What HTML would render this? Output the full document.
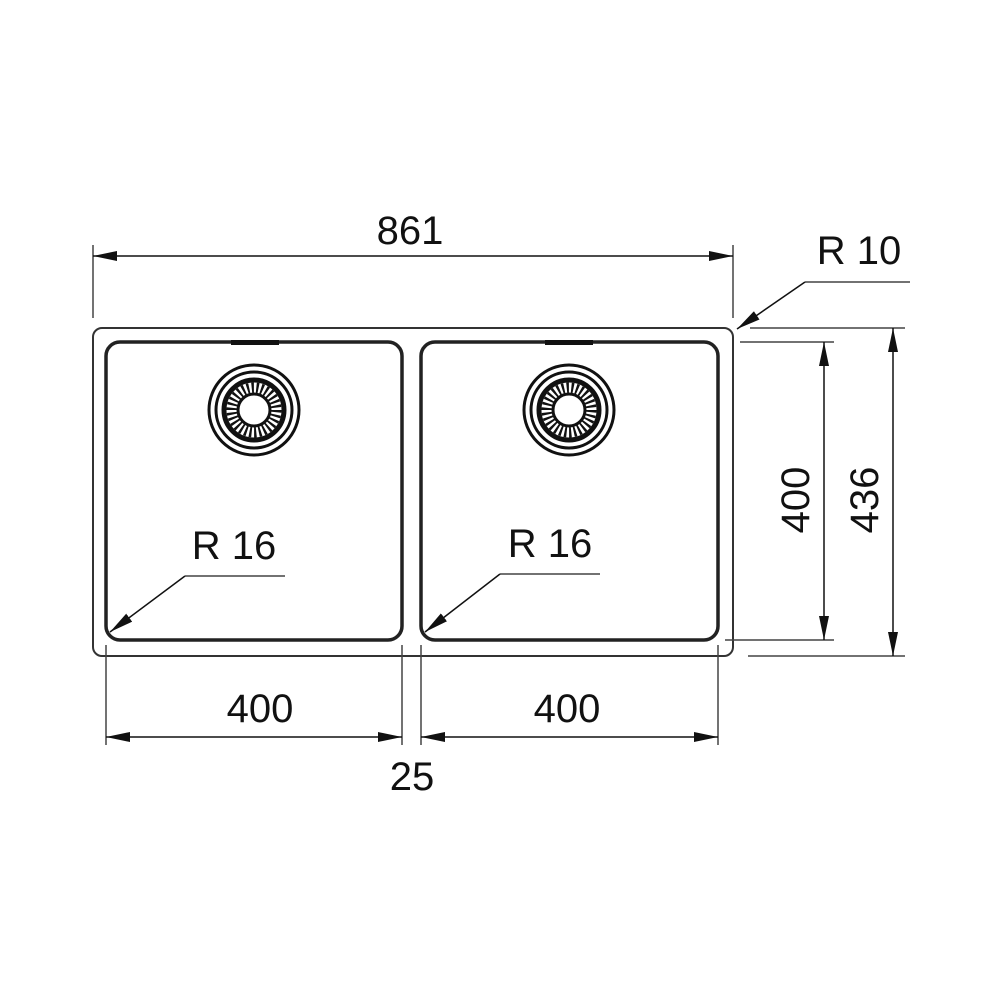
<!DOCTYPE html>
<html><head><style>html,body{margin:0;padding:0;background:#fff}svg{display:block}</style></head><body>
<svg width="1000" height="1000" viewBox="0 0 1000 1000" xmlns="http://www.w3.org/2000/svg" font-family="Liberation Sans, Arial, sans-serif">
<defs>
<marker id="a" markerWidth="24" markerHeight="10" refX="24" refY="5" orient="auto" markerUnits="userSpaceOnUse"><path d="M0,0 L24,5 L0,10 Z" fill="#111"/></marker>
<marker id="b" markerWidth="24" markerHeight="10" refX="0" refY="5" orient="auto" markerUnits="userSpaceOnUse"><path d="M24,0 L0,5 L24,10 Z" fill="#111"/></marker>
<g id="drain">
<circle r="45" fill="none" stroke="#111" stroke-width="3"/>
<circle r="38" fill="none" stroke="#111" stroke-width="3"/>
<circle r="30" fill="none" stroke="#111" stroke-width="5"/>
<circle r="22" fill="none" stroke="#111" stroke-width="11" stroke-dasharray="2.2 2.4"/>
<circle r="16" fill="none" stroke="#111" stroke-width="3"/>
</g>
</defs>
<g fill="none" stroke="#333" stroke-width="2">
<rect x="93" y="328" width="640" height="328" rx="9"/>
</g>
<g fill="none" stroke="#222" stroke-width="3.5">
<rect x="106" y="342" width="296" height="298" rx="14"/>
<rect x="421" y="342" width="297" height="298" rx="14"/>
</g>
<rect x="231" y="340" width="48" height="5" fill="#111"/>
<rect x="545" y="340" width="48" height="5" fill="#111"/>
<use href="#drain" x="254" y="410"/>
<use href="#drain" x="569" y="410"/>
<g stroke="#444" stroke-width="1.5" fill="none">
<line x1="93" y1="245" x2="93" y2="318"/>
<line x1="733" y1="245" x2="733" y2="318"/>
<line x1="740" y1="342" x2="834" y2="342"/>
<line x1="725" y1="640" x2="834" y2="640"/>
<line x1="750" y1="328" x2="905" y2="328"/>
<line x1="748" y1="656" x2="905" y2="656"/>
<line x1="106" y1="645" x2="106" y2="745"/>
<line x1="402" y1="645" x2="402" y2="745"/>
<line x1="421" y1="645" x2="421" y2="745"/>
<line x1="718" y1="645" x2="718" y2="745"/>
<line x1="805" y1="282" x2="910" y2="282"/>
<line x1="185" y1="576" x2="285" y2="576"/>
<line x1="500" y1="574" x2="600" y2="574"/>
</g>
<g stroke="#111" stroke-width="1.5" fill="none">
<line x1="93" y1="256" x2="733" y2="256" marker-start="url(#b)" marker-end="url(#a)"/>
<line x1="824" y1="342" x2="824" y2="640" marker-start="url(#b)" marker-end="url(#a)"/>
<line x1="893" y1="328" x2="893" y2="656" marker-start="url(#b)" marker-end="url(#a)"/>
<line x1="106" y1="737" x2="402" y2="737" marker-start="url(#b)" marker-end="url(#a)"/>
<line x1="421" y1="737" x2="718" y2="737" marker-start="url(#b)" marker-end="url(#a)"/>
<line x1="805" y1="282" x2="737" y2="329" marker-end="url(#a)"/>
<line x1="185" y1="576" x2="110" y2="632" marker-end="url(#a)"/>
<line x1="500" y1="574" x2="425" y2="632" marker-end="url(#a)"/>
</g>
<g fill="#111" font-size="40" text-anchor="middle">
<text x="410" y="244">861</text>
<text x="859" y="264">R 10</text>
<text x="234" y="559">R 16</text>
<text x="550" y="557">R 16</text>
<text x="260" y="722">400</text>
<text x="567" y="722">400</text>
<text x="412" y="790">25</text>
<text transform="translate(809,500) rotate(-90)">400</text>
<text transform="translate(878,500) rotate(-90)">436</text>
</g>
</svg>
</body></html>
